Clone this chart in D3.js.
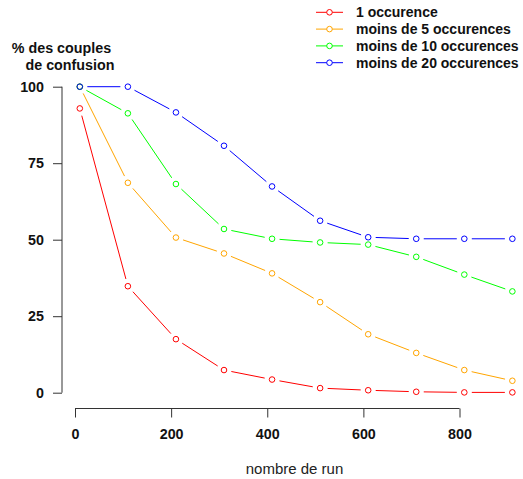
<!DOCTYPE html>
<html><head><meta charset="utf-8">
<script src="https://cdn.jsdelivr.net/npm/d3@7"></script>
<style>body{margin:0;background:#fff}svg{display:block}text{font-family:"Liberation Sans",Arial,sans-serif}</style>
</head><body>
<script>
const runs = [10,110,210,310,410,510,610,710,810,910];
const series1 = [92.9,34.8,17.5,7.4,4.3,1.5,0.8,0.3,0.1,0.1];
const series5 = [100,68.6,50.7,45.5,39.0,29.6,19.1,13.0,7.4,3.9];
const series10 = [100,91.3,68.2,53.5,50.3,49.1,48.4,44.4,38.6,33.1];
const series20 = [100,100,91.6,80.7,67.4,56.2,50.8,50.3,50.3,50.3];
const seriesNames = ["1 occurence","moins de 5 occurences","moins de 10 occurences","moins de 20 occurences"];
const seriesColors = ["#ff0000","#ffa500","#00ff00","#0000ff"];
const xTicks = [0,200,400,600,800];
const yTicks = [0,25,50,75,100];

const W=523,H=479;
const svg=d3.select("body").append("svg").attr("width",W).attr("height",H);
const x=d3.scaleLinear().domain([0,800]).range([75,459.5]);
const y=d3.scaleLinear().domain([0,100]).range([392.7,86.7]);
const FS=14.3;

// y axis
const ya=svg.append("g").attr("transform","translate(62,0)")
  .call(d3.axisLeft(y).tickValues(yTicks).tickSize(9).tickPadding(9).tickSizeOuter(0));
ya.select(".domain").remove();
ya.append("line").attr("x1",0).attr("x2",0).attr("y1",y(0)).attr("y2",y(100)).attr("stroke","#333");
ya.selectAll(".tick line").attr("stroke","#333");
ya.selectAll(".tick text").attr("font-size",FS).attr("font-weight","bold").attr("fill","#111")
  .attr("font-family","Liberation Sans, Arial, sans-serif");

// x axis
const xa=svg.append("g").attr("transform","translate(0,408.5)")
  .call(d3.axisBottom(x).tickValues(xTicks).tickSize(9).tickPadding(11).tickSizeOuter(0));
xa.select(".domain").remove();
xa.append("line").attr("x1",x(0)).attr("x2",x(800)).attr("y1",0).attr("y2",0).attr("stroke","#333");
xa.selectAll(".tick line").attr("stroke","#333");
xa.selectAll(".tick text").attr("font-size",FS).attr("font-weight","bold").attr("fill","#111")
  .attr("font-family","Liberation Sans, Arial, sans-serif");

// titles
svg.append("text").attr("x",61.5).attr("y",53).attr("text-anchor","middle").attr("font-size",FS).attr("font-weight","bold").attr("fill","#111").text("% des couples");
svg.append("text").attr("x",70).attr("y",70).attr("text-anchor","middle").attr("font-size",FS).attr("font-weight","bold").attr("fill","#111").text("de confusion");
svg.append("text").attr("x",294.5).attr("y",474).attr("text-anchor","middle").attr("font-size",15).attr("fill","#222").text("nombre de run");

const all=[series1,series5,series10,series20];
const gap=7.5, r=2.8;
all.forEach((s,i)=>{
  const g=svg.append("g");
  const pts=runs.map((v,j)=>[x(v),y(s[j])]);
  for(let j=0;j<pts.length-1;j++){
    const [x1,y1]=pts[j],[x2,y2]=pts[j+1];
    const dx=x2-x1,dy=y2-y1,L=Math.hypot(dx,dy);
    if(L<=2*gap) continue;
    const ux=dx/L,uy=dy/L;
    g.append("line").attr("x1",x1+ux*gap).attr("y1",y1+uy*gap).attr("x2",x2-ux*gap).attr("y2",y2-uy*gap)
      .attr("stroke",seriesColors[i]).attr("stroke-width",1);
  }
  g.selectAll("circle").data(pts).join("circle").attr("cx",d=>d[0]).attr("cy",d=>d[1]).attr("r",r)
    .attr("fill","none").attr("stroke",seriesColors[i]).attr("stroke-width",1);
});

// legend
const lg=svg.append("g");
seriesNames.forEach((n,i)=>{
  const yy=12.3+i*16.8;
  lg.append("line").attr("x1",316).attr("x2",343).attr("y1",yy).attr("y2",yy).attr("stroke",seriesColors[i]);
  lg.append("circle").attr("cx",329.5).attr("cy",yy).attr("r",r).attr("fill","#fff").attr("stroke",seriesColors[i]);
  lg.append("text").attr("x",356).attr("y",yy+5).attr("font-size",14).attr("font-weight","bold").attr("fill","#111").text(n);
});
</script>
</body></html>
